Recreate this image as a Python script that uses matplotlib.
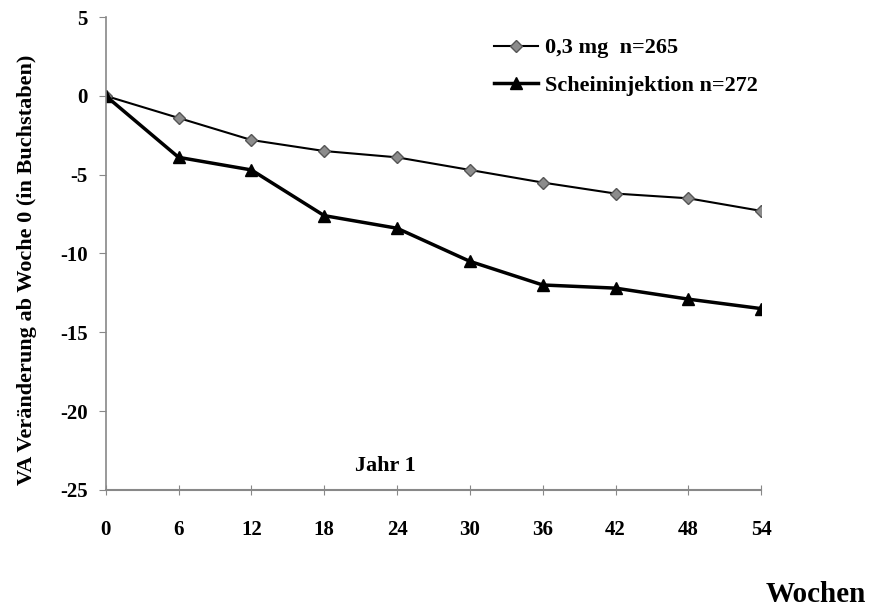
import matplotlib.pyplot as plt

wochen = [0, 6, 12, 18, 24, 30, 36, 42, 48, 54]
dosis_03mg = [0, -1.4, -2.8, -3.5, -3.9, -4.7, -5.5, -6.2, -6.5, -7.3]
schein = [0, -3.9, -4.7, -7.6, -8.4, -10.5, -12.0, -12.2, -12.9, -13.5]
y_ticks = [5, 0, -5, -10, -15, -20, -25]

plt.rcParams['font.family'] = ['Liberation Serif', 'DejaVu Serif']
plt.rcParams['font.weight'] = 'bold'
plt.rcParams['axes.unicode_minus'] = False

fig = plt.figure(figsize=(8.81, 6.1), dpi=100)
ax = fig.add_axes([0.120, 0.197, 0.744, 0.775])

ax.plot(wochen, dosis_03mg, color='black', lw=1.5, marker='D', markersize=6.5,
        markerfacecolor='#8c8c8c', markeredgecolor='#555555', label='0,3 mg  n=265')
ax.plot(wochen, schein, color='black', lw=2.5, marker='^', markersize=8.5,
        markerfacecolor='black', markeredgecolor='black', label='Scheininjektion n=272')

ax.set_xlim(0, 54)
ax.set_ylim(-25, 5)
ax.set_xticks(wochen)
ax.set_yticks(y_ticks)
ax.tick_params(axis='x', direction='inout', length=7, pad=18, labelsize=15, color='#888888')
ax.tick_params(axis='y', direction='out', length=5, pad=8, labelsize=15, color='#888888')
for s in ['top', 'right']:
    ax.spines[s].set_visible(False)
ax.spines['left'].set_color('#888888')
ax.spines['bottom'].set_color('#888888')
ax.spines['left'].set_linewidth(1.2)
ax.spines['bottom'].set_linewidth(1.5)

ax.set_ylabel('VA Veränderung ab Woche 0 (in Buchstaben)', fontsize=16, fontweight='bold')
ax.yaxis.set_label_coords(-0.105, 0.465)
ax.text(23, -23.5, 'Jahr 1', fontsize=16, fontweight='bold', ha='center', va='center')
fig.text(0.983, 0.025, 'Wochen', fontsize=21, fontweight='bold', ha='right', va='center')

ax.legend(loc='upper right', bbox_to_anchor=(1.008, 0.975), frameon=False, fontsize=16,
          handlelength=2.0, handletextpad=0.3, labelspacing=0.75, borderaxespad=0)

fig.savefig('out.png', dpi=100)
